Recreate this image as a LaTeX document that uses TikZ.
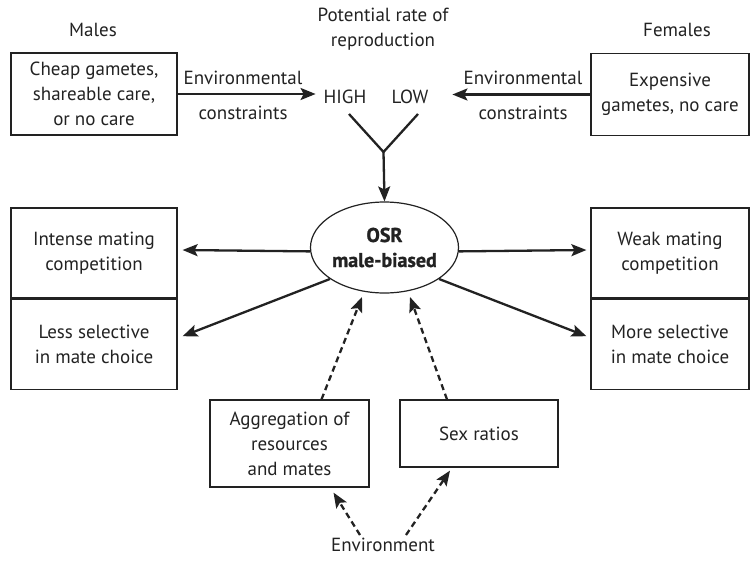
\documentclass[tikz,border=0pt]{standalone}
\usepackage{fontspec}
\setmainfont{PT Sans}
\newfontfamily\heavyfont[FakeBold=1.2]{PT Sans Bold}
\usetikzlibrary{arrows.meta,shapes.geometric,calc}
\definecolor{ink}{HTML}{222222}
\begin{document}
\begin{tikzpicture}[x=1pt,y=-1pt,
  every node/.style={font=\fontsize{19}{25}\selectfont, inner sep=0pt, text=ink},
  box/.style={draw=ink, line width=1.2pt, align=center},
  lbl/.style={align=center},
  arr/.style={draw=ink, line width=2.3pt, -{Stealth[length=15pt,width=12pt,inset=3pt]}},
  darr/.style={draw=ink, line width=2.3pt, dash pattern=on 6pt off 4pt, -{Stealth[length=15pt,width=12pt,inset=3pt]}},
  ln/.style={draw=ink, line width=2.3pt}]
\useasboundingbox (0,0) rectangle (750,562);

% top labels
\node[lbl] (males) at (93,30) {Males};
\node[lbl] (females) at (677,30) {Females};
\node[lbl] (prr) at (383,29) {Potential rate of\\reproduction};

% top boxes
\node[box, minimum width=166pt, minimum height=82pt] (mbox) at (94,94) {Cheap gametes,\\shareable care,\\or no care};
\node[box, minimum width=158pt, minimum height=82pt] (fbox) at (670,94.5) {Expensive\\gametes, no care};

\node[lbl] (high) at (345,97) {HIGH};
\node[lbl] (low) at (410,97) {LOW};

\node[lbl] (env1) at (243,78) {Environmental};
\node[lbl] (con1) at (243,113) {constraints};
\node[lbl] (env2) at (523,78) {Environmental};
\node[lbl] (con2) at (523,113) {constraints};

\draw[arr] (mbox.east) -- ++(138,0) coordinate (hightip);
\draw[arr] (fbox.west) -- ++(-138,0) coordinate (lowtip);

% Y shape
\coordinate (hs) at (349,114);
\coordinate (ls) at (418,114);
\coordinate (yj) at (383.5,152);
\node[draw=ink, ellipse, line width=1.2pt, minimum width=135pt, minimum height=91pt, align=center,
  font=\fontsize{20}{25}\heavyfont] (osr) at (384.5,247.5) {OSR\\male-biased};
\draw[ln] (hs) -- (yj) -- (ls);
\draw[arr] (yj) -- (osr.north);

% side boxes
\node[box, minimum width=166pt, minimum height=90pt] (lb1) at (94,253) {Intense mating\\competition};
\node[box, minimum width=166pt, minimum height=90pt, anchor=north] (lb2) at (lb1.south) {Less selective\\in mate choice};
\node[box, minimum width=158pt, minimum height=90pt] (rb1) at (670,253) {Weak mating\\competition};
\node[box, minimum width=158pt, minimum height=90pt, anchor=north] (rb2) at (rb1.south) {More selective\\in mate choice};

\draw[arr] (osr.183) -- ($(lb1.east)+(5,-3)$);
\draw[arr] (osr.210) -- ($(lb2.east)+(5,-8)$);
\draw[arr] (osr.357) -- ($(rb1.west)+(-4,-3)$);
\draw[arr] (osr.330) -- ($(rb2.west)+(-4,-8)$);

% bottom boxes
\node[box, minimum width=159pt, minimum height=87pt] (agg) at (289.5,443.5) {Aggregation of\\resources\\and mates};
\node[box, minimum width=158pt, minimum height=67pt] (sex) at (479,433.5) {Sex ratios};
\node[lbl] (envt) at (383,545) {Environment};

\coordinate (a1) at ($(agg.north)+(32,0)$);
\coordinate (a1t) at (362,297);
\coordinate (s1) at ($(sex.north)+(-32,0)$);
\coordinate (s1t) at (410,297);
\draw[darr] (a1) -- (a1t);
\draw[darr] (s1) -- (s1t);

\coordinate (e1) at (360,535);
\coordinate (e2) at (406,535);
\draw[darr] (e1) -- ($(agg.south)+(44,5)$);
\draw[darr] (e2) -- ($(sex.south)+(-29,3)$);
\end{tikzpicture}
\end{document}
